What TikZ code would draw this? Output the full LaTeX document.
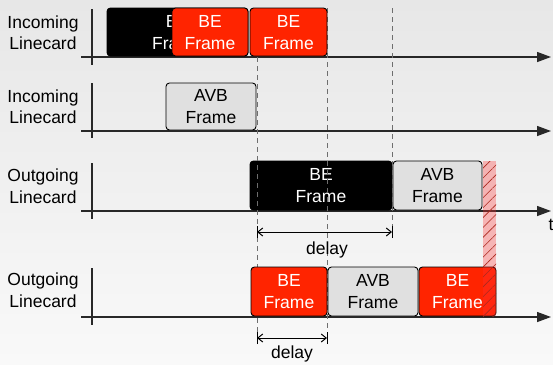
\documentclass[tikz,border=0pt]{standalone}
\usepackage{fontspec}
\setmainfont{Liberation Sans}
\usetikzlibrary{arrows.meta,patterns.meta}
\definecolor{bered}{RGB}{255,36,0}
\definecolor{avbgray}{RGB}{224,224,224}
\definecolor{bgtop}{RGB}{231,231,231}
\definecolor{bgbot}{RGB}{249,249,249}
\definecolor{axiscol}{RGB}{40,40,40}
\definecolor{dashcol}{RGB}{110,110,110}
\definecolor{hatchcol}{RGB}{170,40,30}
\tikzset{
  frame/.style={draw=black, line width=0.9pt, rounded corners=3.5pt, inner sep=0pt,
    align=center, font=\fontsize{17.5}{22}\selectfont, text depth=-7pt},
  beblack/.style={frame, fill=black, text=white},
  bered/.style={frame, fill=bered, text=white},
  avb/.style={frame, fill=avbgray, text=black},
  rowlabel/.style={align=center, inner sep=0pt, font=\fontsize{17.5}{21.5}\selectfont},
  axisline/.style={draw=axiscol, line width=1.3pt},
  timeaxis/.style={axisline, -{Triangle[length=14pt,width=10pt]}},
  guide/.style={draw=dashcol, line width=1pt, dash pattern=on 5pt off 4pt},
  delayarrow/.style={draw=black, line width=1pt, {Straight Barb[length=5pt,width=8pt]}-{Straight Barb[length=5pt,width=8pt]}},
  delaybar/.style={draw=black, line width=1pt},
  txt/.style={inner sep=0pt, font=\fontsize{17.5}{21.5}\selectfont}
}
\begin{document}
\begin{tikzpicture}[x=1pt,y=-1pt]
\useasboundingbox (0,0) rectangle (553,364);
\shade[top color=bgtop, bottom color=bgbot] (0,0) rectangle (553,364);

% coordinates
\coordinate (a1s) at (81,57);  \coordinate (a1e) at (551,57);
\coordinate (a2s) at (81,131); \coordinate (a2e) at (551,131);
\coordinate (a3s) at (81,211); \coordinate (a3e) at (551,211);
\coordinate (a4s) at (81,317); \coordinate (a4e) at (551,317);
\coordinate (v1t) at (92,9);   \coordinate (v1b) at (92,65);
\coordinate (v2t) at (92,83);  \coordinate (v2b) at (92,138);
\coordinate (v3t) at (92,163); \coordinate (v3b) at (92,219);
\coordinate (v4t) at (92,268); \coordinate (v4b) at (92,325);

% row labels
\node[rowlabel] (l1) at (43,32.5) {Incoming\\Linecard};
\node[rowlabel] (l2) at (43,106.5) {Incoming\\Linecard};
\node[rowlabel] (l3) at (43,186) {Outgoing\\Linecard};
\node[rowlabel] (l4) at (43,290) {Outgoing\\Linecard};

% axes
\draw[timeaxis] (a1s) -- (a1e);
\draw[timeaxis] (a2s) -- (a2e);
\draw[timeaxis] (a3s) -- (a3e);
\draw[timeaxis] (a4s) -- (a4e);
\draw[axisline] (v1t) -- (v1b);
\draw[axisline] (v2t) -- (v2b);
\draw[axisline] (v3t) -- (v3b);
\draw[axisline] (v4t) -- (v4b);
\node[txt, anchor=north] (tlabel) at (551,219) {t};

% row 3 frames (guides drawn over them)
\node[beblack, minimum width=142pt, minimum height=49pt] (o1) at (321,185.5) {BE\\Frame};
\node[avb, minimum width=89pt, minimum height=49pt] (o2) at (437.5,185.5) {AVB\\Frame};

% guide lines
\coordinate (g1t) at (257,57);  \coordinate (g1b) at (257,343);
\coordinate (g2t) at (327,8);   \coordinate (g2b) at (327,343);
\coordinate (g3t) at (392,8);   \coordinate (g3b) at (392,240);
\draw[guide] (g1t) -- (g1b);
\draw[guide] (g2t) -- (g2b);
\draw[guide] (g3t) -- (g3b);

% row 1 frames
\node[beblack, minimum width=141pt, minimum height=48pt] (i1) at (177.5,32) {BE\\Frame};
\node[bered, minimum width=76pt, minimum height=48pt] (i2) at (210,32) {BE\\Frame};
\node[bered, minimum width=77pt, minimum height=48pt] (i3) at (288.5,32) {BE\\Frame};

% row 2 frame
\node[avb, minimum width=90pt, minimum height=47pt] (j1) at (211,106.5) {AVB\\Frame};

% row 4 frames
\node[bered, minimum width=76pt, minimum height=49pt] (p1) at (289,291.5) {BE\\Frame};
\node[avb, minimum width=90pt, minimum height=49pt] (p2) at (373,291.5) {AVB\\Frame};
\node[bered, minimum width=77pt, minimum height=49pt] (p3) at (457.5,291.5) {BE\\Frame};

% hatched guard band
\fill[red!80!white, fill opacity=0.32] (483,161) rectangle (496,316);
\fill[pattern={Lines[angle=45,distance=7pt,line width=0.6pt]}, pattern color=hatchcol] (483,161) rectangle (496,316);

% delay arrows
\coordinate (d1l) at (257,232); \coordinate (d1r) at (392,232);
\coordinate (d2l) at (257,338); \coordinate (d2r) at (327,338);
\draw[delayarrow] (d1l) -- (d1r);
\draw[delaybar] ([yshift=-6pt]d1l) -- ([yshift=6pt]d1l);
\draw[delaybar] ([yshift=-6pt]d1r) -- ([yshift=6pt]d1r);
\draw[delayarrow] (d2l) -- (d2r);
\draw[delaybar] ([yshift=-6pt]d2l) -- ([yshift=6pt]d2l);
\draw[delaybar] ([yshift=-6pt]d2r) -- ([yshift=6pt]d2r);
\node[txt] (dl1) at (327,250) {delay};
\node[txt] (dl2) at (292,354) {delay};
\end{tikzpicture}
\end{document}
